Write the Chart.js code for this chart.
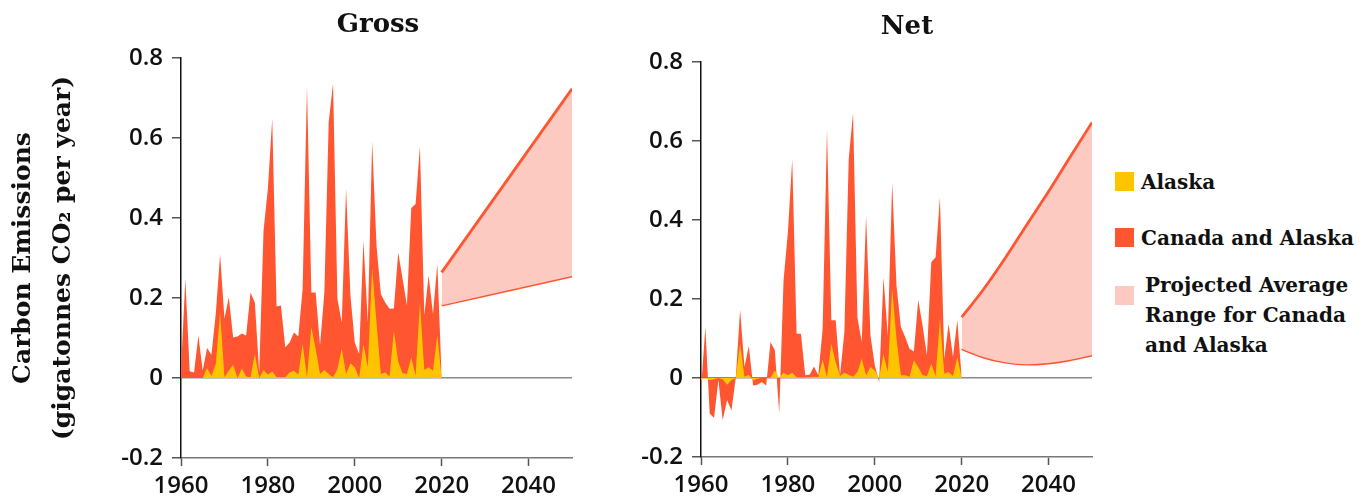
<!DOCTYPE html>
<html>
<head>
<meta charset="utf-8">
<script src="https://cdn.jsdelivr.net/npm/chart.js@4.4.1/dist/chart.umd.min.js"></script>
<style>
  body { margin: 0; background: #fff; width: 1369px; height: 502px; overflow: hidden; position: relative; }
  canvas { position: absolute; top: 0; }
  #grossChart { left: 0; }
  #netChart { left: 620px; }
  .title { position: absolute; width: 200px; text-align: center; font-family: 'DejaVu Serif', serif; font-weight: bold; font-size: 26px; color: #111; line-height: 30px; }
  .legend { position: absolute; left: 1115px; top: 0; width: 254px; height: 502px; z-index: 2; font-family: 'DejaVu Serif', serif; font-weight: bold; font-size: 20px; color: #111; }
  .legend .sw { position: absolute; left: 0; width: 19px; height: 19px; }
  .legend .txt { position: absolute; line-height: 30px; white-space: nowrap; }
</style>
</head>
<body>
<canvas id="grossChart" width="600" height="502"></canvas>
<canvas id="netChart" width="480" height="502"></canvas>

<div class="title" style="left:278px;top:8px">Gross</div>
<div class="title" style="left:807px;top:10px">Net</div>

<div class="legend">
  <div class="sw" style="top:172px;background:#ffc400"></div>
  <div class="txt" style="left:26px;top:167px">Alaska</div>
  <div class="sw" style="top:228px;background:#ff5530"></div>
  <div class="txt" style="left:26px;top:223px">Canada and Alaska</div>
  <div class="sw" style="top:286px;background:#fdcac2"></div>
  <div class="txt" style="left:30px;top:270px">Projected Average<br>Range for Canada<br>and Alaska</div>
</div>

<script>
// ── DATA ──
const years = [];
for (let y = 1960; y <= 2020; y++) years.push(y);

const xTicks = [1960, 1980, 2000, 2020, 2040];
const yTicks = [-0.2, 0, 0.2, 0.4, 0.6, 0.8];

// Gross emissions (Gt CO2 / yr)
const grossTotal = [
  0.02, 0.248, 0.017, 0.014, 0.106, 0.018, 0.075, 0.058, 0.16, 0.309,
  0.148, 0.202, 0.101, 0.104, 0.111, 0.106, 0.214, 0.189, 0.014, 0.369,
  0.473, 0.648, 0.179, 0.181, 0.077, 0.089, 0.114, 0.104, 0.223, 0.730,
  0.214, 0.214, 0.081, 0.214, 0.640, 0.736, 0.198, 0.139, 0.473, 0.206,
  0.089, 0.060, 0.344, 0.139, 0.591, 0.331, 0.210, 0.189, 0.173, 0.174,
  0.314, 0.248, 0.181, 0.425, 0.435, 0.580, 0.156, 0.256, 0.160, 0.285,
  0
];
const grossAlaska = [
  0, 0, 0, 0, 0, 0, 0.025, 0.005, 0.035, 0.164,
  0.002, 0.018, 0.033, 0, 0.024, 0.004, 0.002, 0.060, 0, 0.020,
  0.008, 0.016, 0.002, 0.002, 0.002, 0.014, 0.018, 0.008, 0.085, 0.002,
  0.127, 0.073, 0.010, 0.020, 0.010, 0.002, 0.022, 0.074, 0.010, 0.037,
  0.027, 0, 0.085, 0.027, 0.273, 0.139, 0.010, 0.014, 0.004, 0.118,
  0.041, 0.012, 0.010, 0.052, 0.006, 0.189, 0.020, 0.027, 0.018, 0.106,
  0
];
const grossProjYears = [2020, 2050];
const grossProjHigh = [0.264, 0.723];
const grossProjLow = [0.182, 0.255];

// Net emissions (Gt CO2 / yr)
const netTotal = [
  -0.03, 0.129, -0.090, -0.101, -0.006, -0.107, -0.056, -0.082, 0, 0.173,
  0.028, 0.081, -0.019, -0.017, -0.010, -0.019, 0.091, 0.070, -0.090, 0.247,
  0.369, 0.554, 0.112, 0.112, 0.007, 0.008, 0.029, 0.007, 0.125, 0.630,
  0.146, 0.146, 0.007, 0.116, 0.554, 0.670, 0.154, 0.091, 0.411, 0.108,
  0.032, -0.010, 0.255, 0.108, 0.495, 0.234, 0.129, 0.104, 0.074, 0.067,
  0.198, 0.133, 0.057, 0.293, 0.306, 0.457, 0.049, 0.137, 0.053, 0.146,
  0
];
const netAlaska = [
  -0.005, 0, -0.006, -0.003, 0, -0.004, -0.017, -0.006, 0, 0.087,
  0.003, 0.008, -0.006, -0.002, 0, 0, 0.001, 0.019, 0, 0.013,
  0.007, 0.013, 0.002, 0.001, 0.002, 0.002, 0.003, 0.002, 0.046, 0.002,
  0.087, 0.040, 0.005, 0.013, 0.008, 0.003, 0.015, 0.049, 0.007, 0.028,
  0.019, 0, 0.061, 0.015, 0.226, 0.099, 0.007, 0.007, 0.003, 0.045,
  0.028, 0.007, 0.005, 0.036, 0.005, 0.150, 0.011, 0.015, 0.005, 0.053,
  0
];
const netProjYears = [2020, 2025, 2030, 2035, 2040, 2045, 2050];
const netProjHigh = [0.154, 0.224, 0.303, 0.388, 0.472, 0.560, 0.647];
const netProjLow = [0.074, 0.053, 0.040, 0.035, 0.038, 0.046, 0.058];

// ── STYLE ──
const RED = '#ff5530';
const YELLOW = '#ffc400';
const PINK = '#fdcac2';
const SERIF = "'DejaVu Serif', serif";

Chart.defaults.font.family = "'Open Sans', sans-serif";
Chart.defaults.color = '#111';

const pts = (xs, ys) => xs.map((x, i) => ({ x: x, y: ys[i] }));

function buildChart(id, total, alaska, projX, projHi, projLo, geo) {
    const ctx = document.getElementById(id).getContext('2d');
    return new Chart(ctx, {
        type: 'line',
        data: {
            datasets: [
                {
                    label: 'Alaska',
                    data: pts(years, alaska),
                    backgroundColor: YELLOW,
                    borderColor: 'rgba(0,0,0,0)',
                    borderWidth: 0,
                    pointRadius: 0,
                    fill: 'origin',
                    order: 0
                },
                {
                    label: 'Canada and Alaska',
                    data: pts(years, total),
                    backgroundColor: RED,
                    borderColor: 'rgba(0,0,0,0)',
                    borderWidth: 0,
                    pointRadius: 0,
                    fill: 'origin',
                    order: 1
                },
                {
                    label: 'Projected high',
                    data: pts(projX, projHi),
                    borderColor: RED,
                    borderWidth: 2.8,
                    backgroundColor: PINK,
                    pointRadius: 0,
                    cubicInterpolationMode: 'monotone',
                    fill: '+1',
                    order: 2
                },
                {
                    label: 'Projected low',
                    data: pts(projX, projLo),
                    borderColor: RED,
                    borderWidth: 2.8,
                    pointRadius: 0,
                    cubicInterpolationMode: 'monotone',
                    fill: false,
                    order: 2
                }
            ]
        },
        options: {
            responsive: false,
            animation: false,
            events: [],
            layout: { padding: { left: 0, right: geo.padRight, top: geo.padTop, bottom: 0 } },
            plugins: {
                legend: { display: false },
                tooltip: { enabled: false }
            },
            scales: {
                x: {
                    type: 'linear',
                    min: 1960,
                    max: 2050,
                    afterBuildTicks: s => { s.ticks = xTicks.map(v => ({ value: v })); },
                    afterFit: s => { s.height = geo.xHeight; },
                    ticks: {
                        callback: v => String(v),
                        font: { size: 24, weight: '600' },
                        color: '#111',
                        padding: 6,
                        maxRotation: 0
                    },
                    grid: { drawOnChartArea: false, drawTicks: true, tickLength: 8, tickColor: '#555', tickWidth: 1.5 },
                    border: { display: true, color: '#777', width: 1.5 }
                },
                y: {
                    min: -0.2,
                    max: 0.8,
                    afterBuildTicks: s => { s.ticks = yTicks.map(v => ({ value: v })); },
                    afterFit: s => { s.width = geo.yWidth; },
                    ticks: {
                        callback: v => (Math.abs(v) < 1e-9 ? '0' : v.toFixed(1)),
                        font: { size: 24, weight: '600' },
                        color: '#111',
                        padding: 9
                    },
                    grid: {
                        color: c => (c.tick && Math.abs(c.tick.value) < 1e-9 ? '#8a8a8a' : 'rgba(0,0,0,0)'),
                        lineWidth: 1.5,
                        tickLength: 9,
                        tickColor: '#555',
                        tickWidth: 1.5
                    },
                    border: { display: true, color: '#111', width: 1.5 },
                    title: {
                        display: geo.yTitle,
                        text: ['Carbon Emissions', '(gigatonnes CO\u2082 per year)'],
                        color: '#111',
                        font: { family: SERIF, size: 25, weight: 'bold', lineHeight: 1.6 },
                        padding: { top: 3, bottom: 0 }
                    }
                }
            }
        }
    });
}

buildChart('grossChart', grossTotal, grossAlaska, grossProjYears, grossProjHigh, grossProjLow,
    { padRight: 28, padTop: 58, xHeight: 44, yWidth: 181, yTitle: true });

buildChart('netChart', netTotal, netAlaska, netProjYears, netProjHigh, netProjLow,
    { padRight: 8, padTop: 62, xHeight: 45, yWidth: 81, yTitle: false });
</script>
</body>
</html>
